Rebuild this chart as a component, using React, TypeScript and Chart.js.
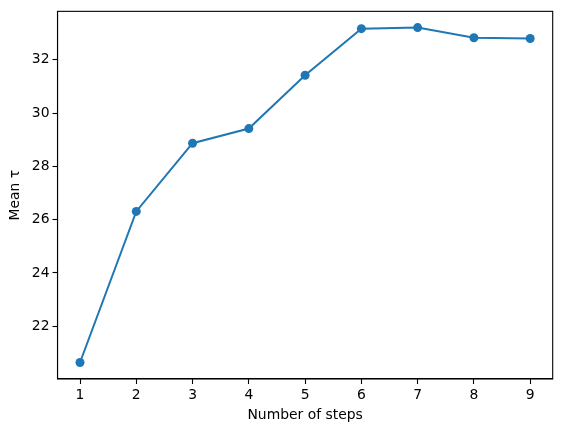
import { useEffect, useRef } from "react";
import { Chart, registerables } from "chart.js";

Chart.register(...registerables);

const steps = [1, 2, 3, 4, 5, 6, 7, 8, 9];
const meanTau = [20.64, 26.31, 28.87, 29.42, 31.42, 33.17, 33.21, 32.83, 32.8];
const yTicks = [22, 24, 26, 28, 30, 32];

const BLUE = "#1f77b4";
const FONT = "'DejaVu Sans', sans-serif";

// matplotlib draws a full box around the axes
const frame = {
  id: "frame",
  afterDraw(chart: Chart) {
    const { ctx, chartArea: a } = chart;
    ctx.save();
    ctx.strokeStyle = "#000";
    ctx.lineWidth = 1.1;
    ctx.strokeRect(a.left, a.top, a.right - a.left, a.bottom - a.top);
    ctx.restore();
  },
};

export default function App() {
  const canvasRef = useRef<HTMLCanvasElement>(null);

  useEffect(() => {
    document.body.style.margin = "0";
    const ctx = canvasRef.current?.getContext("2d");
    if (!ctx) return;

    const chart = new Chart(ctx, {
      type: "line",
      data: {
        datasets: [
          {
            data: steps.map((s, i) => ({ x: s, y: meanTau[i] })),
            borderColor: BLUE,
            backgroundColor: BLUE,
            borderWidth: 2,
            pointRadius: 4.5,
            pointBorderWidth: 0,
            tension: 0,
          },
        ],
      },
      options: {
        responsive: false,
        animation: false,
        layout: { padding: { top: 9.5, right: 9.3, left: 0, bottom: 0 } },
        plugins: { legend: { display: false }, tooltip: { enabled: false } },
        scales: {
          x: {
            type: "linear",
            min: 0.6,
            max: 9.4,
            afterBuildTicks: (s) => {
              s.ticks = steps.map((v) => ({ value: v }));
            },
            afterFit: (s) => {
              s.height = 53;
            },
            grid: { drawOnChartArea: false, drawTicks: true, tickLength: 5, color: "#000", tickWidth: 1.1 },
            border: { display: true, color: "#000", width: 1.1 },
            ticks: { color: "#000", font: { family: FONT, size: 13.9 }, padding: 3, maxRotation: 0 },
            title: {
              display: true,
              text: "Number of steps",
              color: "#000",
              font: { family: FONT, size: 13.9 },
              padding: { top: 0, bottom: 8.5 },
            },
          },
          y: {
            type: "linear",
            min: 20.02,
            max: 33.82,
            afterBuildTicks: (s) => {
              s.ticks = yTicks.map((v) => ({ value: v }));
            },
            afterFit: (s) => {
              s.width = 57.5;
            },
            grid: { drawOnChartArea: false, drawTicks: true, tickLength: 5, color: "#000", tickWidth: 1.1 },
            border: { display: true, color: "#000", width: 1.1 },
            ticks: { color: "#000", font: { family: FONT, size: 13.9 }, padding: 3 },
            title: {
              display: true,
              text: "Mean τ",
              color: "#000",
              font: { family: FONT, size: 13.9 },
              padding: { top: 7, bottom: 0 },
            },
          },
        },
      },
      plugins: [frame],
    });

    return () => chart.destroy();
  }, []);

  return <canvas ref={canvasRef} width={562} height={432} />;
}
